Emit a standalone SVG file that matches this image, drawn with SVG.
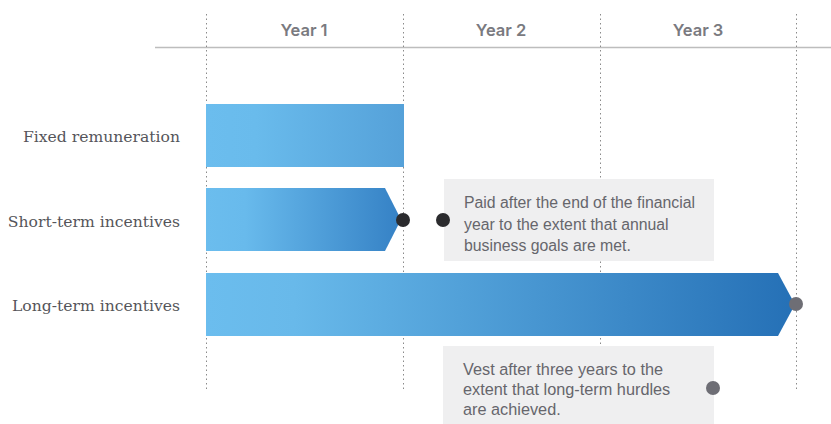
<svg xmlns="http://www.w3.org/2000/svg" width="831" height="424" viewBox="0 0 831 424">
<style>
.grid{stroke:#8a8a8a;stroke-width:1;stroke-dasharray:1.5 3}
.yr{font-family:"Inter","Liberation Sans",sans-serif;font-size:16.5px;font-weight:600;fill:#7a7a80;text-anchor:middle}
.lbl{font-family:"DejaVu Serif",serif;font-size:15.6px;fill:#55555a;text-anchor:end}
.note{font-family:"Liberation Sans",sans-serif;font-size:15.8px;fill:#66666c}
.note2{font-size:16.3px}
.box{fill:#efeff0}
</style>
<defs>
<linearGradient id="gFixed" x1="0" y1="0" x2="1" y2="0">
<stop offset="0" stop-color="#6bbdee"/><stop offset="0.25" stop-color="#69bbec"/><stop offset="1" stop-color="#55a1d9"/>
</linearGradient>
<linearGradient id="gSti" x1="0" y1="0" x2="1" y2="0">
<stop offset="0" stop-color="#6bbdee"/><stop offset="0.2" stop-color="#68baec"/><stop offset="1" stop-color="#3581c5"/>
</linearGradient>
<linearGradient id="gLti" x1="0" y1="0" x2="1" y2="0">
<stop offset="0" stop-color="#6bbdee"/><stop offset="0.15" stop-color="#68b9ea"/><stop offset="1" stop-color="#2570b6"/>
</linearGradient>
</defs>
<g id="grid">
<line x1="155" y1="47.5" x2="831" y2="47.5" stroke="#bdbdbd" stroke-width="1.5"/>
<line class="grid" x1="206.5" y1="14" x2="206.5" y2="390"/>
<line class="grid" x1="403.5" y1="14" x2="403.5" y2="390"/>
<line class="grid" x1="600.5" y1="14" x2="600.5" y2="345"/>
<line class="grid" x1="796.5" y1="14" x2="796.5" y2="390"/>
<text class="yr" x="304" y="36">Year 1</text>
<text class="yr" x="501" y="36">Year 2</text>
<text class="yr" x="698" y="36">Year 3</text>
</g>
<g id="fixed">
<text class="lbl" x="180" y="142">Fixed remuneration</text>
<rect x="206" y="104" width="198" height="63" fill="url(#gFixed)"/>
</g>
<g id="sti">
<text class="lbl" x="180" y="227">Short-term incentives</text>
<polygon points="206,188 385,188 401,219.5 385,251 206,251" fill="url(#gSti)"/>
</g>
<g id="lti">
<text class="lbl" x="180" y="311">Long-term incentives</text>
<polygon points="206,273 778,273 795,304.5 778,336 206,336" fill="url(#gLti)"/>
</g>
<g id="sti-note">
<rect class="box" x="444" y="179" width="270" height="82"/>
<text class="note" x="464" y="208">Paid after the end of the financial</text>
<text class="note" x="464" y="230">year to the extent that annual</text>
<text class="note" x="464" y="251">business goals are met.</text>
</g>
<g id="lti-note">
<rect class="box" x="443" y="346" width="271" height="78"/>
<text class="note note2" x="463" y="375">Vest after three years to the</text>
<text class="note note2" x="463" y="395">extent that long-term hurdles</text>
<text class="note note2" x="463" y="415">are achieved.</text>
</g>
<g id="connectors">
<circle cx="403" cy="220" r="7" fill="#2b2b2e"/>
<circle cx="443" cy="220" r="7" fill="#2b2b2e"/>
<circle cx="796" cy="304" r="7" fill="#6e6e75"/>
<circle cx="713" cy="388" r="7" fill="#6e6e75"/>
</g>
</svg>
